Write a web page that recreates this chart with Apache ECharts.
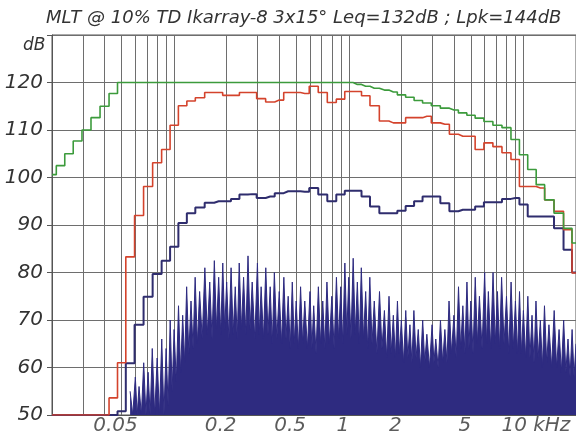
<!DOCTYPE html>
<html>
<head>
<meta charset="utf-8">
<script src="https://cdn.jsdelivr.net/npm/echarts@6/dist/echarts.min.js"></script>
<style>
html, body { margin: 0; padding: 0; background: #fff; }
#chart { width: 576px; height: 435px; }
</style>
</head>
<body>
<div id="chart"></div>
<script>
// 1/6-octave band centres, kHz
const bandFreq = [0.02, 0.0224, 0.025, 0.028, 0.0315, 0.0355, 0.04, 0.045, 0.05, 0.056,
  0.063, 0.071, 0.08, 0.09, 0.1, 0.112, 0.125, 0.14, 0.16, 0.18,
  0.2, 0.224, 0.25, 0.28, 0.315, 0.355, 0.4, 0.45, 0.5, 0.56,
  0.63, 0.71, 0.8, 0.9, 1, 1.12, 1.25, 1.4, 1.6, 1.8,
  2, 2.24, 2.5, 2.8, 3.15, 3.55, 4, 4.5, 5, 5.6,
  6.3, 7.1, 8, 9, 10, 11.2, 12.5, 14, 16, 18, 20];

// maximum level per band (green), dB
const levelMax = [100.6, 102.5, 105, 107.7, 110, 112.6, 115, 117.7, 120, 120,
  120, 120, 120, 120, 120, 120, 120, 120, 120, 120,
  120, 120, 120, 120, 120, 120, 120, 120, 120, 120,
  120, 120, 120, 120, 120, 119.6, 119.2, 118.8, 118.4, 118,
  117.4, 116.9, 116.2, 115.7, 115.1, 114.6, 114.2, 113.6, 113.1, 112.5,
  111.8, 111, 110.5, 108, 104.8, 101.7, 98.5, 95.3, 92.5, 89.3, 86.2];

// MLT level per band (red), dB
const levelMLT = [50, 50, 50, 50, 50, 50, 50, 53.6, 61, 83.3,
  92, 98.1, 103.1, 105.9, 111, 115.1, 116.1, 116.8, 117.9, 117.9,
  117.3, 117.3, 117.9, 117.9, 116.6, 115.9, 116.3, 117.9, 117.9, 117.7,
  119.2, 117.9, 115.8, 116.5, 118.1, 118.1, 117.2, 115.1, 111.9, 111.5,
  111.5, 112.6, 112.6, 112.9, 111.5, 111.2, 109.1, 108.7, 108.7, 105.9,
  107.3, 106.5, 105.2, 103.8, 98.1, 98.1, 97.8, 95.3, 92.9, 89, 79.9];

// 1/6-octave level of the test signal (navy), dB
const levelSignal = [50, 50, 50, 50, 50, 50, 50, 50, 50.8, 60.9,
  69, 74.9, 79.7, 82.5, 85.4, 90.4, 92.5, 93.7, 94.7, 95,
  95, 95.5, 96.4, 96.5, 95.7, 96, 96.7, 97.1, 97.1, 97,
  97.8, 96.4, 95, 96.4, 97.2, 97.2, 96, 93.9, 92.5, 92.5,
  93, 94, 95, 96, 96, 94.6, 92.9, 93.2, 93.2, 93.9,
  94.8, 94.8, 95.5, 95.7, 94.3, 91.8, 91.8, 91.8, 89.3, 84.8, 80];

// narrow-band spectrum: peak level and the dip that follows it, dB
const specFreq = [0.056, 0.06, 0.063, 0.067, 0.071, 0.075, 0.08, 0.085, 0.09, 0.095,
  0.1, 0.106, 0.112, 0.118, 0.125, 0.132, 0.14, 0.15, 0.16, 0.17,
  0.18, 0.19, 0.2, 0.212, 0.224, 0.236, 0.25, 0.265, 0.28, 0.3,
  0.315, 0.335, 0.355, 0.375, 0.4, 0.425, 0.45, 0.475, 0.5, 0.53,
  0.56, 0.6, 0.63, 0.67, 0.71, 0.75, 0.8, 0.85, 0.9, 0.95,
  1, 1.06, 1.12, 1.18, 1.25, 1.32, 1.4, 1.5, 1.6, 1.7,
  1.8, 1.9, 2, 2.12, 2.24, 2.36, 2.5, 2.65, 2.8, 3,
  3.15, 3.35, 3.55, 3.75, 4, 4.25, 4.5, 4.75, 5, 5.3,
  5.6, 6, 6.3, 6.7, 7.1, 7.5, 8, 8.5, 9, 9.5,
  10, 10.6, 11.2, 11.8, 12.5, 13.2, 14, 15, 16, 17,
  18, 19, 20];
const specPeak = [55, 58, 56, 61, 59, 64, 62, 66, 64, 70,
  68, 73, 71, 77, 74, 79, 76, 81, 78, 82.5,
  79, 82, 78, 81, 77, 82, 79, 83.5, 78, 82,
  77, 81, 77, 80, 76, 79, 75, 78, 74, 77,
  74, 76, 73, 77, 74, 78, 75, 79, 77, 82,
  79, 83, 78, 81, 76, 79, 74, 76, 72, 75,
  71, 74, 70, 72, 69, 72, 68, 70, 67, 69,
  66, 70, 68, 74, 71, 77, 73, 78, 74, 79,
  75, 80, 76, 80, 76, 79, 75, 78, 74, 76,
  72, 75, 71, 74, 70, 73, 69, 72, 68, 70,
  66, 68, 65];
const specDip = [50, 50, 50, 50, 50, 50, 50, 50, 52, 55,
  57, 59, 61, 63, 64, 65, 66, 67, 66, 68,
  67, 68, 66, 67, 66, 68, 67, 68, 66, 67,
  66, 67, 65, 66, 65, 66, 64, 65, 64, 65,
  64, 64, 63, 65, 64, 65, 64, 66, 65, 67,
  66, 67, 65, 66, 64, 65, 63, 64, 62, 63,
  62, 63, 61, 62, 61, 62, 60, 61, 60, 61,
  60, 61, 61, 63, 62, 64, 63, 64, 63, 65,
  64, 65, 64, 65, 64, 65, 63, 64, 63, 63,
  62, 62, 61, 62, 60, 61, 60, 60, 59, 59,
  58, 58, 58];

// frequency grid lines and labelled frequencies, kHz
const gridFreq = [0.03, 0.04, 0.05, 0.06, 0.07, 0.08, 0.09, 0.1,
  0.2, 0.3, 0.4, 0.5, 0.6, 0.7, 0.8, 0.9, 1,
  2, 3, 4, 5, 6, 7, 8, 9, 10];
const tickFreq = [0.05, 0.2, 0.5, 1, 2, 5, 10];
const tickText = ['0.05', '0.2', '0.5', '1', '2', '5', '10 kHz'];

const FONT = 'DejaVu Sans';
const INK = '#333333';
const GRID = '#6e6e6e';

const pairs = (xs, ys) => xs.map((x, i) => [x, ys[i]]);

// zig-zag outline: each peak followed by its dip half way to the next peak
const specLine = [];
specFreq.forEach((f, i) => {
  specLine.push([f, specPeak[i]]);
  if (i < specFreq.length - 1) {
    specLine.push([Math.sqrt(f * specFreq[i + 1]), specDip[i]]);
  }
});

const chart = echarts.init(document.getElementById('chart'), null, { renderer: 'canvas' });

chart.setOption({
  animation: false,
  backgroundColor: '#ffffff',
  title: {
    text: 'MLT @ 10% TD Ikarray-8 3x15° Leq=132dB ; Lpk=144dB',
    left: 41,
    top: 4,
    textStyle: { fontFamily: FONT, fontStyle: 'italic', fontWeight: 'normal', fontSize: 18, color: INK }
  },
  graphic: [{
    type: 'text',
    left: 23,
    top: 37,
    style: { text: 'dB', font: 'italic 17px "DejaVu Sans"', fill: INK }
  }],
  grid: {
    left: 52, right: -4, top: 35, bottom: 20,
    show: true, borderColor: '#555', borderWidth: 1, backgroundColor: '#fff'
  },
  xAxis: {
    type: 'log',
    logBase: 10,
    min: 0.02,
    max: 20,
    axisLine: { show: true, lineStyle: { color: '#555', width: 1 } },
    axisTick: { show: false },
    axisLabel: { show: false },
    splitLine: { show: false }
  },
  yAxis: {
    type: 'value',
    min: 50,
    max: 130,
    interval: 10,
    axisLine: { show: true, lineStyle: { color: '#555', width: 1 } },
    axisTick: { show: true, length: 5, lineStyle: { color: '#555' } },
    axisLabel: {
      margin: 9,
      fontFamily: FONT, fontStyle: 'italic', fontSize: 20, color: INK,
      formatter: v => (v === 130 ? '' : String(v))
    },
    splitLine: { show: true, lineStyle: { color: GRID, width: 1 } }
  },
  series: [
    {
      name: 'grid',
      type: 'line',
      data: [[0.02, 50]],
      showSymbol: false,
      lineStyle: { opacity: 0 },
      silent: true,
      z: 1,
      markLine: {
        z: 1,
        silent: true,
        symbol: ['none', 'none'],
        label: { show: false },
        lineStyle: { color: GRID, width: 1, type: 'solid' },
        data: gridFreq.map(f => ({ xAxis: f }))
      }
    },
    {
      name: 'spectrum',
      type: 'line',
      data: specLine,
      showSymbol: false,
      lineStyle: { color: '#2e2b80', width: 1 },
      areaStyle: { color: '#2e2b80', opacity: 1, origin: 'start' },
      z: 6
    },
    {
      name: 'signal 1/6 oct',
      type: 'line',
      step: 'middle',
      data: pairs(bandFreq, levelSignal),
      showSymbol: false,
      lineStyle: { color: '#2f2d6e', width: 2 },
      z: 7
    },
    {
      name: 'MLT',
      type: 'line',
      step: 'middle',
      data: pairs(bandFreq, levelMLT),
      showSymbol: false,
      lineStyle: { color: '#d4432c', width: 1.6 },
      z: 8
    },
    {
      name: 'max',
      type: 'line',
      step: 'middle',
      data: pairs(bandFreq, levelMax),
      showSymbol: false,
      lineStyle: { color: '#3c9b3c', width: 1.6 },
      z: 9
    },
    {
      name: 'freq labels',
      type: 'scatter',
      data: tickFreq.map((f, i) => ({
        value: [f, 50],
        label: i === tickFreq.length - 1 ? { align: 'left', offset: [-22, 0] } : {}
      })),
      symbolSize: 0,
      silent: true,
      z: 10,
      label: {
        show: true,
        position: 'bottom',
        distance: 1,
        offset: [-6, 0],
        fontFamily: FONT, fontStyle: 'italic', fontSize: 20, color: INK,
        formatter: p => tickText[p.dataIndex]
      }
    }
  ]
});
</script>
</body>
</html>
